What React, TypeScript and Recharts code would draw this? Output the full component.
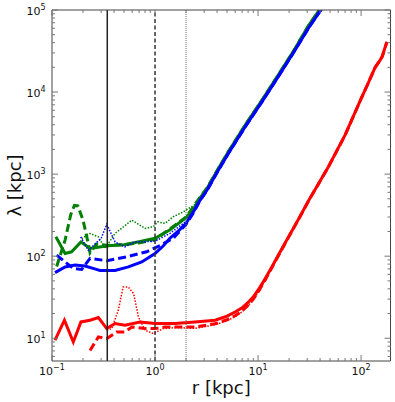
import { LineChart, Line, XAxis, YAxis, ReferenceLine, Label } from "recharts";

// === radius [kpc], lambda [kpc] pairs ===
const redSolid: [number, number][] = [
  [0.107, 9.5], [0.132, 16.6], [0.161, 9.0], [0.191, 15.8], [0.234, 16.6], [0.282, 17.9],
  [0.34, 13.1], [0.409, 15.1], [0.511, 14.4], [0.714, 15.8], [1.0, 15.1], [1.56, 15.1],
  [2.44, 15.8], [3.83, 16.6], [5.0, 18.6], [5.98, 20.9], [7.0, 23.5], [8.05, 27.5],
  [9.0, 32], [10.07, 39], [11.7, 53], [13.6, 74], [15.8, 104], [18.3, 145], [24.6, 280],
  [30.8, 470], [48.2, 1230], [70, 3000], [101.6, 8700], [113, 11600], [137, 20000],
  [150, 23500], [160, 27000], [178, 41000],
];
const redDashed: [number, number][] = [
  [0.234, 7.1], [0.282, 10.4], [0.34, 9.9], [0.424, 11.9], [0.51, 11.9], [0.595, 13.7],
  [0.8, 13.1], [1.0, 13.1], [1.25, 13.7], [2.44, 13.7], [3.83, 15.0], [5.0, 16.8],
  [5.98, 18.8], [7.0, 21.5], [8.05, 25.5], [9.0, 30], [10.07, 37], [11.7, 51], [13.6, 72],
  [15.8, 102], [18.3, 143], [24.6, 278], [30.8, 468], [48.2, 1225], [70, 2990],
  [101.6, 8650], [137, 19900], [160, 26800], [178, 40500],
];
const redDotted: [number, number][] = [
  [0.34, 12.5], [0.38, 13.1], [0.44, 21.9], [0.49, 42], [0.55, 42], [0.62, 35],
  [0.69, 18.2], [0.8, 12.5], [0.96, 11.4], [1.2, 13.1], [1.6, 13.5], [2.44, 13.2],
  [3.83, 14.6], [5.0, 16.3], [5.98, 18.3], [7.0, 21], [8.05, 25], [9.0, 29.5],
  [10.07, 36.5], [11.7, 50.5], [13.6, 72], [15.8, 102], [18.3, 143], [24.6, 278],
  [30.8, 468], [48.2, 1225], [70, 2990], [101.6, 8650], [137, 19900], [160, 26800],
  [178, 40500],
];

const greenSolid: [number, number][] = [
  [0.109, 172], [0.134, 108], [0.155, 113], [0.191, 149], [0.234, 124], [0.3, 130],
  [0.35, 134], [0.5, 138], [0.7, 150], [1.0, 165], [1.4, 210], [2.0, 295], [2.4, 390],
  [2.73, 510], [3.2, 670], [4, 1100], [5.15, 1870], [7.5, 3950], [10.9, 7950],
  [15.7, 16100], [22.9, 34000], [30.8, 64000], [40, 103000],
];
const greenDashed: [number, number][] = [
  [0.111, 75], [0.134, 157], [0.152, 320], [0.165, 415], [0.178, 410], [0.2, 275],
  [0.225, 143], [0.234, 110], [0.27, 140], [0.34, 136], [0.51, 138], [0.714, 146],
  [1.0, 160], [1.4, 215], [2.0, 300], [2.73, 520], [3.2, 680], [5.15, 1880], [7.5, 3950],
  [10.9, 7950], [15.7, 16100], [22.9, 34000], [30.8, 64000], [40, 103000],
];
const greenDotted: [number, number][] = [
  [0.194, 164], [0.234, 189], [0.282, 172], [0.327, 124], [0.409, 189], [0.595, 275],
  [0.8, 218], [0.96, 228], [1.06, 262], [1.25, 251], [1.5, 302], [1.88, 347],
  [2.4, 420], [2.73, 515], [3.2, 675], [5.15, 1875], [7.5, 3950], [10.9, 7950],
  [15.7, 16100], [22.9, 34000], [30.8, 64000], [40, 103000],
];

const blueSolid: [number, number][] = [
  [0.107, 63], [0.134, 74], [0.167, 78], [0.209, 76], [0.26, 70], [0.292, 67],
  [0.409, 67], [0.551, 74], [0.743, 85], [1.0, 108], [1.2, 133], [1.4, 166], [1.7, 205],
  [2.0, 252], [2.4, 360], [2.73, 480], [3.2, 640], [4, 1050], [5.15, 1790], [7.5, 3780],
  [10.9, 7600], [15.7, 15400], [22.9, 32500], [30.8, 60000], [40, 97000], [46, 125000],
];
const blueDashed: [number, number][] = [
  [0.111, 103], [0.134, 85], [0.161, 71], [0.194, 69], [0.234, 94], [0.34, 88],
  [0.53, 98], [0.714, 108], [0.83, 113], [1.12, 135], [1.5, 165], [2.0, 245], [2.4, 350],
  [2.73, 475], [3.2, 635], [4, 1045], [5.15, 1785], [7.5, 3770], [10.9, 7600],
  [15.7, 15400], [22.9, 32500], [30.8, 60000], [40, 97000], [46, 125000],
];
const blueDotted: [number, number][] = [
  [0.19, 172], [0.225, 118], [0.26, 140], [0.3, 165], [0.34, 244], [0.41, 149],
  [0.51, 130], [0.64, 150], [0.8, 150], [1.0, 152], [1.4, 190], [2.0, 265], [2.4, 360],
  [2.73, 478], [3.2, 638], [4, 1048], [5.15, 1788], [7.5, 3775], [10.9, 7600],
  [15.7, 15400], [22.9, 32500], [30.8, 60000], [40, 97000], [46, 125000],
];

// marker radii (vertical lines)
const rSolid = 0.344;
const rDashed = 1.0;
const rDotted = 2.0;

const xDomain: [number, number] = [0.1, 193];
const yDomain: [number, number] = [5.28, 100000];
const xDecades = [-1, 0, 1, 2];
const yDecades = [0, 1, 2, 3, 4, 5];

const buildTicks = (decades: number[], [lo, hi]: [number, number]) => {
  const out: number[] = [];
  decades.forEach((e) => {
    for (let m = 1; m <= 9; m++) {
      const v = Number((m * Math.pow(10, e)).toPrecision(6));
      if (v >= lo && v <= hi) out.push(v);
    }
  });
  return out;
};
const xTicks = buildTicks(xDecades, xDomain);
const yTicks = buildTicks(yDecades, yDomain);

const toRows = (pts: [number, number][]) => pts.map(([r, lam]) => ({ r, lam }));

const isMajor = (v: number) => Math.abs(v / Math.pow(10, Math.round(Math.log10(v))) - 1) < 1e-9;
const expOf = (v: number) => {
  const e = Math.round(Math.log10(v));
  return e < 0 ? `\u2212${-e}` : `${e}`;
};

const TICK = "#777";
const FONT = "DejaVu Sans";

// side tells which way is "inside" the plot
const makeTick = (side: "bottom" | "top" | "left" | "right") => (props: any) => {
  const { x, y, payload } = props;
  const major = isMajor(payload.value);
  const len = major ? 6 : 3;
  let line;
  if (side === "bottom") line = <line x1={x} x2={x} y1={y} y2={y - len} stroke={TICK} />;
  else if (side === "top") line = <line x1={x} x2={x} y1={y} y2={y + len} stroke={TICK} />;
  else if (side === "left") line = <line x1={x} x2={x + len} y1={y} y2={y} stroke={TICK} />;
  else line = <line x1={x} x2={x - len} y1={y} y2={y} stroke={TICK} />;
  return (
    <g>
      {line}
      {major && side === "bottom" && (
        <text x={x} y={y + 14} textAnchor="middle" fontSize={11} fontFamily={FONT} fill="#111">
          10<tspan dy={-5} fontSize={8}>{expOf(payload.value)}</tspan>
        </text>
      )}
      {major && side === "left" && (
        <text x={x - 6.5} y={y + 4.5} textAnchor="end" fontSize={11} fontFamily={FONT} fill="#111">
          10<tspan dy={-5} fontSize={8}>{expOf(payload.value)}</tspan>
        </text>
      )}
    </g>
  );
};

const XTitle = (props: any) => {
  const { viewBox } = props;
  return (
    <text x={viewBox.x + viewBox.width / 2} y={viewBox.y + viewBox.height - 8} textAnchor="middle"
      fontSize={18} fontFamily={FONT} fill="#111">
      r [kpc]
    </text>
  );
};

const YTitle = (props: any) => {
  const { viewBox } = props;
  const cx = 21;
  const cy = viewBox.y + viewBox.height / 2;
  return (
    <text x={cx} y={cy} transform={`rotate(-90 ${cx} ${cy})`} textAnchor="middle"
      fontSize={18} fontFamily={FONT} fill="#111">
      λ [kpc]
    </text>
  );
};

const series = [
  { key: "redDotted", pts: redDotted, color: "#ff0000", style: "dotted" },
  { key: "redDashed", pts: redDashed, color: "#ff0000", style: "dashed" },
  { key: "redSolid", pts: redSolid, color: "#ff0000", style: "solid" },
  { key: "greenDotted", pts: greenDotted, color: "#008000", style: "dotted" },
  { key: "greenDashed", pts: greenDashed, color: "#008000", style: "dashed" },
  { key: "greenSolid", pts: greenSolid, color: "#008000", style: "solid" },
  { key: "blueDotted", pts: blueDotted, color: "#0000ff", style: "dotted" },
  { key: "blueDashed", pts: blueDashed, color: "#0000ff", style: "dashed" },
  { key: "blueSolid", pts: blueSolid, color: "#0000ff", style: "solid" },
];

export default function App() {
  const axisLine = { stroke: "#444", strokeWidth: 1 };
  return (
    <div style={{ position: "absolute", left: 0, top: 0, background: "#fff" }}>
      <LineChart width={395} height={402} margin={{ top: 10, right: 4.5, bottom: 0, left: 0 }}>
        <XAxis xAxisId={0} dataKey="r" type="number" scale="log" domain={xDomain} allowDataOverflow
          ticks={xTicks} interval={0} height={41} tickSize={0} tickMargin={0} tickLine={false}
          axisLine={axisLine} tick={makeTick("bottom")}>
          <Label content={XTitle} />
        </XAxis>
        <XAxis xAxisId="top" orientation="top" mirror dataKey="r" type="number" scale="log"
          domain={xDomain} allowDataOverflow ticks={xTicks} interval={0} height={1} tickSize={0}
          tickMargin={0} tickLine={false} axisLine={axisLine} tick={makeTick("top")} />
        <YAxis yAxisId={0} dataKey="lam" type="number" scale="log" domain={yDomain} allowDataOverflow
          ticks={yTicks} interval={0} width={52} tickSize={0} tickMargin={0} tickLine={false}
          axisLine={axisLine} tick={makeTick("left")}>
          <Label content={YTitle} />
        </YAxis>
        <YAxis yAxisId="right" orientation="right" mirror dataKey="lam" type="number" scale="log"
          domain={yDomain} allowDataOverflow ticks={yTicks} interval={0} width={1} tickSize={0}
          tickMargin={0} tickLine={false} axisLine={axisLine} tick={makeTick("right")} />

        {series.map((s) => (
          <Line
            key={s.key}
            data={toRows(s.pts)}
            dataKey="lam"
            type="linear"
            stroke={s.color}
            strokeWidth={s.style === "dotted" ? 1.5 : 3}
            strokeDasharray={s.style === "dashed" ? "8 4" : s.style === "dotted" ? "1.5 1.5" : undefined}
            dot={false}
            isAnimationActive={false}
          />
        ))}

        <ReferenceLine x={rSolid} stroke="#222" strokeWidth={1.5} />
        <ReferenceLine x={rDashed} stroke="#333" strokeWidth={1.5} strokeDasharray="4 2.5" />
        <ReferenceLine x={rDotted} stroke="#666" strokeWidth={1} strokeDasharray="1 1" />
      </LineChart>
    </div>
  );
}
